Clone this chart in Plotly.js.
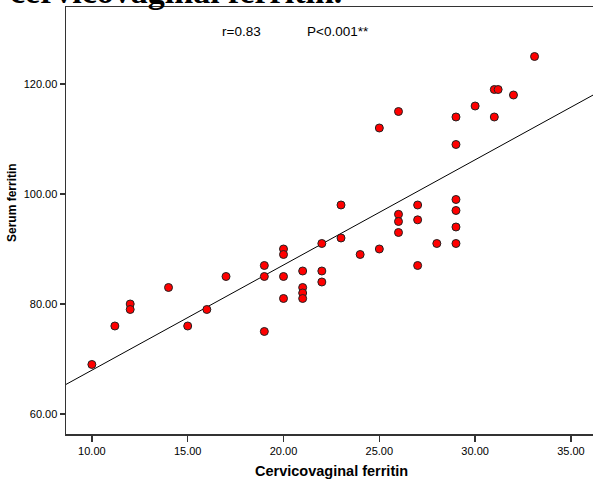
<!DOCTYPE html>
<html>
<head>
<meta charset="utf-8">
<script src="https://cdn.plot.ly/plotly-3.0.1.min.js"></script>
<style>html,body{margin:0;padding:0;background:#fff;}#chart{width:593px;height:482px;}</style>
</head>
<body>
<div id="chart"></div>
<script>
// Data
const cervicovaginalFerritin = [10, 11.2, 12, 12, 14, 15, 16, 17, 19, 19, 19, 20, 20, 20, 20, 21, 21, 21, 21, 22, 22, 22, 23, 23, 24, 25, 25, 26, 26, 26, 26, 27, 27, 27, 28, 29, 29, 29, 29, 29, 29, 30, 31, 31.2, 31, 32, 33.1];
const serumFerritin        = [69, 76, 80, 79, 83, 76, 79, 85, 87, 85, 75, 90, 89, 85, 81, 86, 83, 82, 81, 91, 86, 84, 98, 92, 89, 112, 90, 115, 96.3, 95, 93, 98, 95.3, 87, 91, 114, 109, 99, 97, 94, 91, 116, 119, 119, 114, 118, 125];
// Fit line
const fitIntercept = 48.83;
const fitSlope = 1.913;
const xTickVals = [10, 15, 20, 25, 30, 35];
const yTickVals = [60, 80, 100, 120];
const xRange = [8.65, 36.15];
const yRange = [56.36, 134];
const annR = "r=0.83";
const annP = "P<0.001**";
const xTitle = "Cervicovaginal ferritin";
const yTitle = "Serum ferritin";
const topTitle = "cervicovaginal ferritin.";

const fitX = xRange.slice();
const fitY = fitX.map(x => fitIntercept + fitSlope * x);

const traces = [
  {x: fitX, y: fitY, mode: 'lines', type: 'scatter', line: {color: '#000', width: 1}, hoverinfo: 'skip', cliponaxis: true},
  {x: cervicovaginalFerritin, y: serumFerritin, mode: 'markers', type: 'scatter',
   marker: {color: '#ff0000', size: 8, line: {color: '#222', width: 1}}}
];

const sans = 'Liberation Sans, Arial, sans-serif';
const layout = {
  width: 593, height: 482,
  margin: {l: 66, r: 0, t: 7, b: 48, pad: 0},
  paper_bgcolor: '#fff', plot_bgcolor: '#fff',
  showlegend: false,
  font: {family: sans, color: '#000'},
  xaxis: {range: xRange, tickvals: xTickVals, ticktext: xTickVals.map(v => v.toFixed(2)),
    showgrid: false, zeroline: false, showline: true, mirror: true, linecolor: '#333', linewidth: 1.5,
    ticks: 'outside', ticklen: 6, tickwidth: 1.5, tickcolor: '#333', tickfont: {size: 11, family: sans}},
  yaxis: {range: yRange, tickvals: yTickVals, ticktext: yTickVals.map(v => v.toFixed(2)),
    showgrid: false, zeroline: false, showline: true, mirror: false, linecolor: '#333', linewidth: 1.5,
    ticks: 'outside', ticklen: 5, tickwidth: 1.5, tickcolor: '#333', tickfont: {size: 11, family: sans}},
  annotations: [
    {text: annR, xref: 'paper', yref: 'paper', x: (220-66)/527, y: (434-32)/427, xanchor: 'left', yanchor: 'middle', showarrow: false, font: {size: 13.5, family: sans}},
    {text: annP, xref: 'paper', yref: 'paper', x: (305-66)/527, y: (434-32)/427, xanchor: 'left', yanchor: 'middle', showarrow: false, font: {size: 13.5, family: sans}},
    {text: '<b>' + xTitle + '</b>', xref: 'paper', yref: 'paper', x: (331-66)/527, y: (434-471)/427, xanchor: 'center', yanchor: 'middle', showarrow: false, font: {size: 14.5, family: sans}},
    {text: '<b>' + yTitle + '</b>', xref: 'paper', yref: 'paper', x: (12-66)/527, y: (434-203)/427, xanchor: 'center', yanchor: 'middle', textangle: -90, showarrow: false, font: {size: 12, family: sans}},
    {text: '<b>' + topTitle + '</b>', xref: 'paper', yref: 'paper', x: (8-66)/527, y: (434-12)/427, xanchor: 'left', yanchor: 'bottom', showarrow: false, font: {size: 34, family: 'Liberation Serif, Times New Roman, serif'}}
  ]
};
Plotly.newPlot('chart', traces, layout, {displayModeBar: false, staticPlot: true});
</script>
</body>
</html>
